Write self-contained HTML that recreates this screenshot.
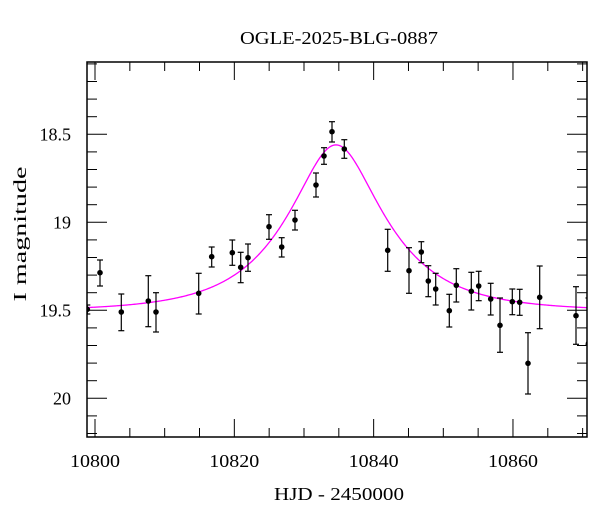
<!DOCTYPE html>
<html><head><meta charset="utf-8"><style>
html,body{margin:0;padding:0;background:#fff;}
svg{display:block;font-family:"Liberation Serif",serif;}
</style></head><body>
<svg id="s" width="600" height="512" viewBox="0 0 600 512" xmlns="http://www.w3.org/2000/svg">
<rect width="600" height="512" fill="#fff"/>
<text x="339" y="44" font-size="18" text-anchor="middle" textLength="198" lengthAdjust="spacingAndGlyphs">OGLE-2025-BLG-0887</text>
<g font-size="18" text-anchor="middle">
<text x="95" y="467" textLength="50" lengthAdjust="spacingAndGlyphs">10800</text>
<text x="234.3" y="467" textLength="50" lengthAdjust="spacingAndGlyphs">10820</text>
<text x="373.7" y="467" textLength="50" lengthAdjust="spacingAndGlyphs">10840</text>
<text x="513" y="467" textLength="50" lengthAdjust="spacingAndGlyphs">10860</text>
<text x="339" y="500" textLength="130" lengthAdjust="spacingAndGlyphs">HJD - 2450000</text>
</g>
<g font-size="18" text-anchor="end">
<text x="71" y="140.5">18.5</text>
<text x="71" y="228.5">19</text>
<text x="71" y="316.5">19.5</text>
<text x="71" y="404.5">20</text>
</g>
<text transform="translate(26,234) rotate(-90)" font-size="18" text-anchor="middle" textLength="135" lengthAdjust="spacingAndGlyphs">I magnitude</text>
<g id="ticks" stroke="#000" stroke-width="1"></g>
<clipPath id="c"><rect x="87" y="62" width="500" height="375"/></clipPath>
<g clip-path="url(#c)">
<path id="curve" fill="none" stroke="#ff00ff" stroke-width="1.3"/>
<g id="pts"></g>
</g>
<rect x="87" y="62" width="500" height="375" fill="none" stroke="#000" stroke-width="1.5"/>
</svg>
<script>
var NS="http://www.w3.org/2000/svg";
function X(t){return 87+(t-10798.85)*6.966;}
function Y(m){return 134.3+(m-18.5)*176;}
function el(p,n,a){var e=document.createElementNS(NS,n);for(var k in a)e.setAttribute(k,a[k]);p.appendChild(e);return e;}
var tk=document.getElementById('ticks');
for(var t=10800;t<=10870;t+=5){var x=X(t),L=(t%20==0)?18:9;
 el(tk,'line',{x1:x,y1:437,x2:x,y2:437-L});el(tk,'line',{x1:x,y1:62,x2:x,y2:62+L});}
for(var i=0;i<=21;i++){var m=18.1+i*0.1,y=Y(m);if(y<62||y>437)continue;var maj=(Math.round(m*10)%5==0),L=maj?20:10;
 el(tk,'line',{x1:87,y1:y,x2:87+L,y2:y});el(tk,'line',{x1:587,y1:y,x2:587-L,y2:y});}
// curve
var d="";
for(var px=87;px<=587;px+=1){var t=10798.85+(px-87)/6.966;var u0=0.45,tE=12.5,t0=10834.6;
 var tau=(t-t0)/tE,u=Math.sqrt(u0*u0+tau*tau);var A=(u*u+2)/(u*Math.sqrt(u*u+4));
 var m=19.505-2.5*Math.log10(A);d+=(px==87?"M":"L")+px+","+Y(m).toFixed(2);}
document.getElementById('curve').setAttribute('d',d);
var P=[[87.3,309.3,305,314],[100,272.7,260,286],[121.3,312,294,330.7],[148.3,301,275.7,326.7],[156,312,292.7,332],
[198.7,293.3,273.3,314],[211.7,256.7,247,267],[232.3,252.7,240,265.3],[240.7,267.3,252.3,282.7],[248,257.7,244,271.3],
[269,226.7,214.7,239.3],[281.7,247,237.7,257],[295,220,210.3,230],[316,185,173,197],[324,156,147.7,164.3],[332,131.7,121.7,142],
[344.3,149,139.7,158.3],[387.7,250.3,229.3,271.3],[409,270.7,247.7,293.3],[421.3,252,241.7,262.7],[428.3,281,265.7,296.7],
[435.7,289,273.3,305],[449.3,310.7,294.3,327],[456.3,285.3,268.7,302],[471.3,291.3,272.3,310],[478.7,286,271.3,300.7],
[490.7,299,283.3,315],[500,325.3,298,352.3],[512.3,301.7,289,314.7],[519.7,302.3,289.3,315.3],[528,363.3,332.7,394],
[539.7,297.3,266,328.7],[576,315.7,286.7,344.3],[588.5,343.3,298,344.3]];
var g=document.getElementById('pts');
P.forEach(function(p){var x=p[0];
 el(g,'line',{x1:x,y1:p[2],x2:x,y2:p[3],stroke:'#000','stroke-width':1.2});
 el(g,'line',{x1:x-3,y1:p[2],x2:x+3,y2:p[2],stroke:'#000','stroke-width':1.2});
 el(g,'line',{x1:x-3,y1:p[3],x2:x+3,y2:p[3],stroke:'#000','stroke-width':1.2});
 el(g,'circle',{cx:x,cy:p[1],r:2.8,fill:'#000'});});
</script>
</body></html>
